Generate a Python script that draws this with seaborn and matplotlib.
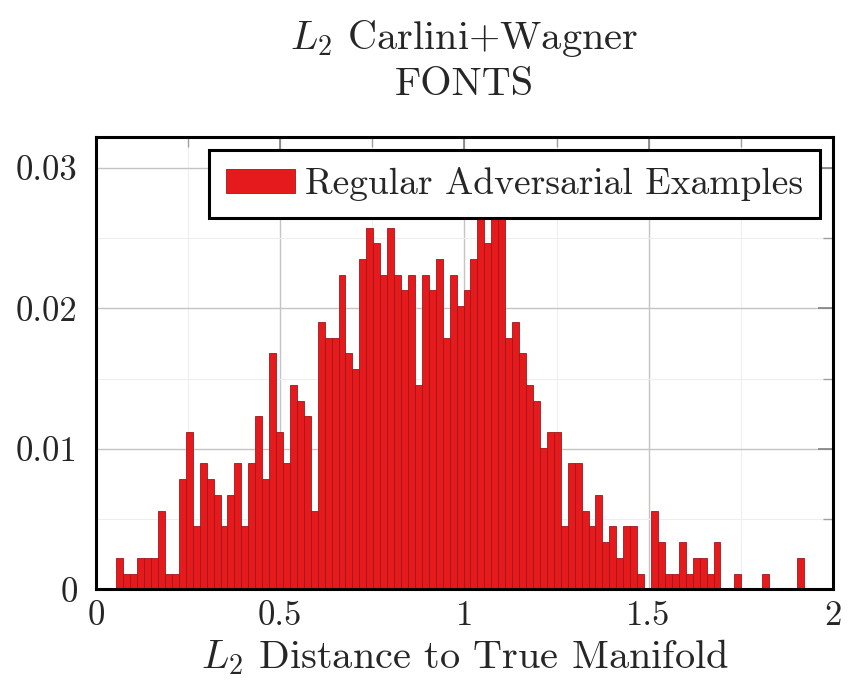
import numpy as np
import pandas as pd
import matplotlib.pyplot as plt
import seaborn as sns
from matplotlib.ticker import MultipleLocator, FixedLocator

# colors
BAR_FILL = "#e41a1c"
BAR_EDGE = "#a3161a"

font_size = 25
label_size = 29
legend_size = 27

# histogram counts per bin (99 equal bins)
counts = [2, 1, 1, 2, 2, 2, 5, 1, 1, 7, 10, 4, 8, 7, 6, 4, 6, 8, 4, 8, 11, 7, 15, 10, 8,
          13, 12, 11, 5, 17, 16, 16, 20, 15, 14, 21, 23, 22, 20, 23, 20,
          19, 20, 13, 20, 19, 21, 16, 20, 18, 19, 21, 25, 22, 26, 25, 16, 17,
          15, 13, 12, 9, 10, 10, 4, 8, 8, 5, 4, 6, 3, 4, 2, 4, 4, 1,
          0, 5, 3, 1, 1, 3, 1, 2, 2, 1, 3, 0, 0, 1, 0, 0, 0, 1, 0, 0, 0, 0, 2]
n_total = 893
dist_min, dist_max = 0.0556, 1.921

x_ticks = [0, 0.5, 1, 1.5, 2]
x_tick_labels = ["0", "0.5", "1", "1.5", "2"]
y_ticks = [0, 0.01, 0.02, 0.03]
y_tick_labels = ["0", "0.01", "0.02", "0.03"]

n_bins = len(counts)
bin_w = (dist_max - dist_min) / n_bins
df = pd.DataFrame({
    "dist": dist_min + bin_w * (np.arange(n_bins) + 0.5),
    "freq": np.array(counts) / n_total,
})

sns.set_style("whitegrid")
plt.rcParams.update({
    "font.family": "cmr10",
    "mathtext.fontset": "cm",
    "axes.formatter.use_mathtext": True,
    "font.size": font_size,
    "axes.unicode_minus": False,
})

fig = plt.figure(figsize=(8.56, 6.99), dpi=100)
ax = fig.add_axes([0.112, 0.157, 0.861, 0.647])

sns.histplot(data=df, x="dist", weights="freq", binwidth=bin_w, binrange=(dist_min, dist_max),
             ax=ax, color=BAR_FILL, edgecolor=BAR_EDGE, linewidth=0.6, alpha=1.0,
             label="Regular Adversarial Examples", zorder=2)

ax.set_xlim(0, 2)
ax.set_ylim(0, 0.0322)
ax.xaxis.set_major_locator(FixedLocator(x_ticks))
ax.set_xticklabels(x_tick_labels)
ax.yaxis.set_major_locator(FixedLocator(y_ticks))
ax.set_yticklabels(y_tick_labels)
ax.xaxis.set_minor_locator(MultipleLocator(0.25))
ax.yaxis.set_minor_locator(MultipleLocator(0.005))

ax.set_axisbelow(True)
ax.grid(which="major", color="#c4c4c4", linewidth=1.0)
ax.grid(which="minor", color="#eeeeee", linewidth=0.8)
ax.tick_params(which="major", direction="in", length=11, width=1.2, color="#808080",
               top=True, right=True, labelsize=font_size)
ax.tick_params(axis="y", which="major", pad=13)
ax.tick_params(axis="x", which="major", pad=8)
ax.tick_params(which="minor", direction="in", length=7, width=1.0, color="#a0a0a0",
               top=True, right=True)
for s in ax.spines.values():
    s.set_visible(True)
    s.set_color("black")
    s.set_linewidth(2.2)
    s.set_zorder(5)

ax.set_xlabel("$L_2$ Distance to True Manifold", fontsize=label_size, labelpad=4)
ax.set_ylabel("")
ax.set_title("$L_2$ Carlini+Wagner\nFONTS", fontsize=label_size, pad=30, linespacing=1.3)

leg = ax.legend(loc="upper right", fontsize=legend_size, frameon=True, fancybox=False,
                framealpha=1.0, edgecolor="black", handlelength=1.85, handleheight=0.6,
                borderpad=0.45, handletextpad=0.25, borderaxespad=0.35)
leg.get_frame().set_linewidth(2.2)
leg.set_zorder(6)

fig.savefig("out.png", dpi=100)
